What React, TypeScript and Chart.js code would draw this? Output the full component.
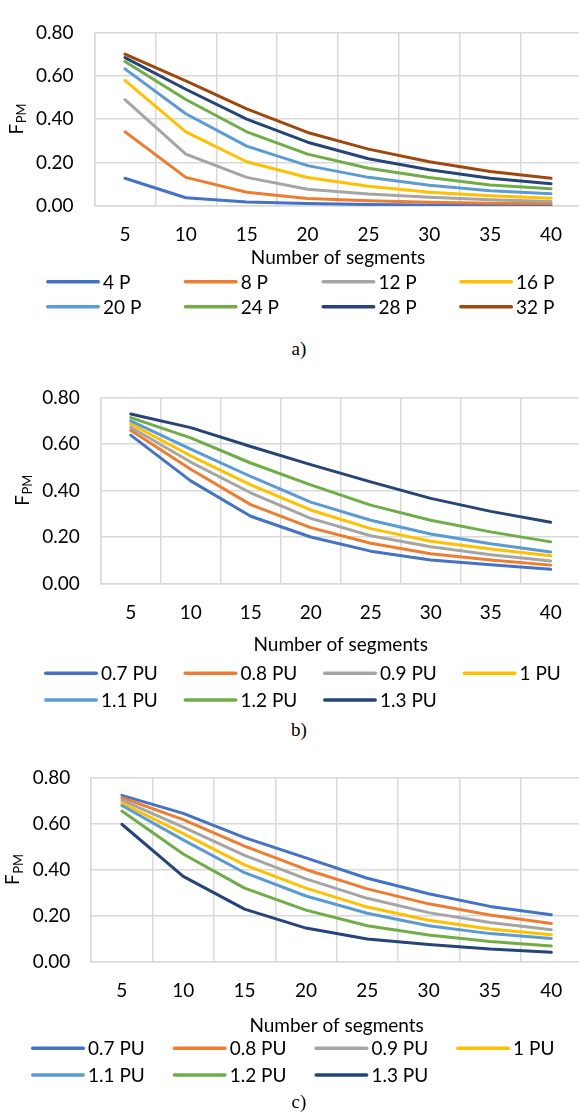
import React, { useEffect, useRef } from 'react';
import { Chart, registerables } from 'chart.js';

Chart.register(...registerables);

// ---------- data ----------
const segments = ['5', '10', '15', '20', '25', '30', '35', '40'];
const yTickMin = 0;
const yTickMax = 0.8;
const yTickStep = 0.2;
const xTitle = 'Number of segments';

const palette = ['#4472C4', '#ED7D31', '#A5A5A5', '#FFC000', '#5B9BD5', '#70AD47', '#264478', '#9E480E'];

// chart a)
const labelsA = ['4 P', '8 P', '12 P', '16 P', '20 P', '24 P', '28 P', '32 P'];
const a4P = [0.128, 0.038, 0.018, 0.011, 0.007, 0.005, 0.004, 0.003];
const a8P = [0.342, 0.132, 0.063, 0.035, 0.024, 0.017, 0.013, 0.011];
const a12P = [0.49, 0.239, 0.132, 0.077, 0.055, 0.04, 0.029, 0.021];
const a16P = [0.579, 0.342, 0.204, 0.131, 0.091, 0.063, 0.047, 0.036];
const a20P = [0.632, 0.425, 0.276, 0.186, 0.132, 0.096, 0.07, 0.057];
const a24P = [0.666, 0.491, 0.342, 0.239, 0.174, 0.131, 0.097, 0.08];
const a28P = [0.684, 0.538, 0.4, 0.294, 0.218, 0.167, 0.128, 0.103];
const a32P = [0.7, 0.577, 0.448, 0.339, 0.262, 0.204, 0.159, 0.128];

// chart b)
const labelsPU = ['0.7 PU', '0.8 PU', '0.9 PU', '1 PU', '1.1 PU', '1.2 PU', '1.3 PU'];
const b07 = [0.638, 0.441, 0.289, 0.2, 0.139, 0.101, 0.081, 0.061];
const b08 = [0.659, 0.491, 0.339, 0.24, 0.173, 0.128, 0.101, 0.079];
const b09 = [0.672, 0.522, 0.39, 0.28, 0.205, 0.158, 0.124, 0.097];
const b10 = [0.686, 0.549, 0.424, 0.316, 0.236, 0.182, 0.148, 0.119];
const b11 = [0.699, 0.578, 0.46, 0.35, 0.272, 0.213, 0.171, 0.135];
const b12 = [0.713, 0.626, 0.518, 0.424, 0.337, 0.272, 0.222, 0.179];
const b13 = [0.729, 0.67, 0.589, 0.511, 0.437, 0.366, 0.31, 0.263];

// chart c)
const c07 = [0.722, 0.644, 0.539, 0.451, 0.363, 0.296, 0.241, 0.205];
const c08 = [0.712, 0.617, 0.502, 0.401, 0.317, 0.252, 0.204, 0.167];
const c09 = [0.701, 0.584, 0.462, 0.36, 0.276, 0.214, 0.171, 0.14];
const c10 = [0.689, 0.556, 0.421, 0.32, 0.238, 0.181, 0.143, 0.118];
const c11 = [0.678, 0.529, 0.387, 0.286, 0.211, 0.157, 0.123, 0.102];
const c12 = [0.654, 0.468, 0.32, 0.225, 0.157, 0.117, 0.089, 0.069];
const c13 = [0.597, 0.371, 0.229, 0.147, 0.1, 0.076, 0.056, 0.042];

const seriesA = [a4P, a8P, a12P, a16P, a20P, a24P, a28P, a32P];
const seriesB = [b07, b08, b09, b10, b11, b12, b13];
const seriesC = [c07, c08, c09, c10, c11, c12, c13];

// ---------- styling ----------
const FONT = 'Lato, "Open Sans", "Noto Sans", sans-serif';
const TEXT = '#000000';
const GRID = '#D9D9D9';

type Layout = {
  top: number;
  height: number;
  padTop: number;
  plotLeft: number;
  padRight: number;
  plotBottom: number; // canvas-local
  xAxisH: number;
  legendX: number;
  legendCol: number;
  legendRows: number[]; // canvas-local centers
};

const yTitlePlugin = {
  id: 'yTitleSub',
  afterDraw(chart: any) {
    const { ctx, chartArea } = chart;
    const cx = chartArea.left - 78.5;
    const cy = (chartArea.top + chartArea.bottom) / 2;
    ctx.save();
    ctx.translate(cx, cy);
    ctx.rotate(-Math.PI / 2);
    ctx.fillStyle = TEXT;
    ctx.textBaseline = 'alphabetic';
    ctx.textAlign = 'left';
    ctx.font = `19px ${FONT}`;
    const wF = ctx.measureText('F').width;
    ctx.font = `13px ${FONT}`;
    const wS = ctx.measureText('PM').width;
    const start = -(wF + wS) / 2;
    ctx.font = `19px ${FONT}`;
    ctx.fillText('F', start, 6.5);
    ctx.font = `13px ${FONT}`;
    ctx.fillText('PM', start + wF + 0.5, 10);
    ctx.restore();
  },
};

const gridLegendPlugin = {
  id: 'gridLegend',
  afterDraw(chart: any, _args: any, opts: any) {
    const { ctx } = chart;
    const ds = chart.data.datasets;
    ctx.save();
    ctx.font = `19px ${FONT}`;
    ctx.textBaseline = 'middle';
    ctx.textAlign = 'left';
    ds.forEach((d: any, i: number) => {
      const col = i % 4;
      const row = Math.floor(i / 4);
      const x = opts.x + col * opts.col;
      const y = opts.rows[row];
      ctx.strokeStyle = d.borderColor;
      ctx.lineWidth = 3.5;
      ctx.lineCap = 'round';
      ctx.beginPath();
      ctx.moveTo(x + 1.75, y);
      ctx.lineTo(x + 52.25, y);
      ctx.stroke();
      ctx.fillStyle = TEXT;
      ctx.fillText(d.label, x + 57, y + 1);
    });
    ctx.restore();
  },
};

const CANVAS_W = 600;

function ChartBlock({ labels, series, layout }: { labels: string[]; series: number[][]; layout: Layout }) {
  const ref = useRef<HTMLCanvasElement | null>(null);
  useEffect(() => {
    if (!ref.current) return;
    const n = series.length;
    const padBottom = layout.height - layout.plotBottom - layout.xAxisH;
    const chart = new Chart(ref.current, {
      type: 'line',
      data: {
        labels: segments,
        datasets: series.map((s, i) => ({
          label: labels[i],
          data: s,
          borderColor: palette[i],
          backgroundColor: palette[i],
          borderWidth: 3,
          pointRadius: 0,
          pointHoverRadius: 0,
          tension: 0,
          fill: false,
          borderCapStyle: 'round' as const,
          borderJoinStyle: 'round' as const,
          order: n - i,
        })),
      },
      options: {
        responsive: false,
        animation: false,
        events: [],
        layout: { padding: { top: layout.padTop, left: 0, right: layout.padRight, bottom: padBottom } },
        plugins: {
          legend: { display: false },
          tooltip: { enabled: false },
          gridLegend: { x: layout.legendX, col: layout.legendCol, rows: layout.legendRows },
        } as any,
        scales: {
          x: {
            type: 'category',
            offset: true,
            grid: { offset: true, color: GRID, lineWidth: 1.5, drawTicks: false },
            border: { color: GRID, width: 1.5 },
            ticks: { color: TEXT, font: { family: FONT, size: 19 }, padding: 17.6, maxRotation: 0, autoSkip: false },
            title: { display: true, text: xTitle, color: TEXT, font: { family: FONT, size: 19 }, padding: 0 },
            afterFit: (s: any) => {
              s.height = layout.xAxisH;
            },
          },
          y: {
            min: yTickMin,
            max: yTickMax,
            grid: { color: GRID, lineWidth: 1.5, drawTicks: false },
            border: { color: GRID, width: 1.5 },
            ticks: {
              stepSize: yTickStep,
              color: TEXT,
              font: { family: FONT, size: 19 },
              padding: 21,
              callback: (v: any) => Number(v).toFixed(2),
            },
            afterFit: (s: any) => {
              s.width = layout.plotLeft;
            },
          },
        },
      },
      plugins: [yTitlePlugin, gridLegendPlugin],
    } as any);
    return () => chart.destroy();
  }, []);
  return (
    <canvas
      ref={ref}
      width={CANVAS_W}
      height={layout.height}
      style={{ position: 'absolute', left: 0, top: layout.top, width: CANVAS_W, height: layout.height }}
    />
  );
}

const layoutA: Layout = {
  top: 0, height: 330, padTop: 13, plotLeft: 94.5, padRight: 18.5, plotBottom: 206, xAxisH: 63.4,
  legendX: 46, legendCol: 137.7, legendRows: [281.7, 306.7],
};
const layoutB: Layout = {
  top: 365, height: 350, padTop: 20, plotLeft: 100.7, padRight: 19.3, plotBottom: 218.5, xAxisH: 72.9,
  legendX: 44, legendCol: 139.5, legendRows: [308.3, 335],
};
const layoutC: Layout = {
  top: 745, height: 350, padTop: 20, plotLeft: 91.2, padRight: 18, plotBottom: 217, xAxisH: 75.4,
  legendX: 31, legendCol: 141.7, legendRows: [303.3, 330],
};

function Caption({ text, cy }: { text: string; cy: number }) {
  return (
    <div
      style={{
        position: 'absolute', left: 0, top: cy - 11, width: 598, height: 22, lineHeight: '22px',
        textAlign: 'center', fontFamily: '"Liberation Serif", "DejaVu Serif", serif', fontSize: 19, color: '#000',
      }}
    >
      {text}
    </div>
  );
}

export default function App() {
  return (
    <div style={{ position: 'absolute', left: 0, top: 0, width: 579, height: 1113, overflow: 'hidden', background: '#fff' }}>
      <ChartBlock labels={labelsA} series={seriesA} layout={layoutA} />
      <ChartBlock labels={labelsPU} series={seriesB} layout={layoutB} />
      <ChartBlock labels={labelsPU} series={seriesC} layout={layoutC} />
      <Caption text="a)" cy={349} />
      <Caption text="b)" cy={730} />
      <Caption text="c)" cy={1102} />
    </div>
  );
}
